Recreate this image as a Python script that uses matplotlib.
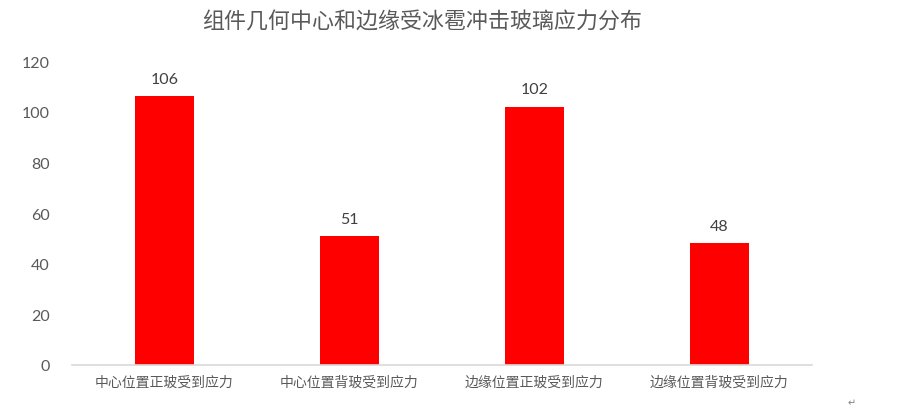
import matplotlib
matplotlib.use("Agg")
import matplotlib.pyplot as plt

plt.rcParams['font.family'] = ['Noto Sans CJK SC', 'DejaVu Sans']

categories = ["中心位置正玻受到应力", "中心位置背玻受到应力", "边缘位置正玻受到应力", "边缘位置背玻受到应力"]
values = [106, 51, 102, 48]
yticks = [0, 20, 40, 60, 80, 100, 120]
title = "组件几何中心和边缘受冰雹冲击玻璃应力分布"

fig = plt.figure(figsize=(9.15, 4.10), dpi=100)
ax = fig.add_axes([72/915, 1-366/410, (812-72)/915, (366-62)/410])

x = list(range(len(categories)))
bars = ax.bar(x, values, width=0.314, color="#FF0000")
for xi, v in zip(x, values):
    ax.text(xi, v + 4, str(v), ha="center", va="bottom", fontsize=11.5, color="#404040",
            family=["Lato", "DejaVu Sans"])

ax.set_xlim(-0.5, len(categories) - 0.5)
ax.set_ylim(0, 120)
ax.set_yticks(yticks)
ax.set_yticklabels([str(t) for t in yticks], fontsize=11.5, color="#595959", family=["Lato", "DejaVu Sans"])
ax.set_xticks(x)
ax.set_xticklabels(categories, fontsize=10, color="#595959")
ax.tick_params(axis="both", length=0)
ax.tick_params(axis="y", pad=16)
ax.tick_params(axis="x", pad=7)
for s in ["top", "right", "left"]:
    ax.spines[s].set_visible(False)
ax.spines["bottom"].set_color("#D9D9D9")
ax.spines["bottom"].set_linewidth(1.2)

fig.text(422/915, 1-22/410, title, ha="center", va="center", fontsize=15.8, color="#595959")
fig.text(852/915, 1-403/410, "↵", ha="center", va="center", fontsize=7, color="#808080", family=["DejaVu Sans"])

fig.savefig("out.png", dpi=100)
